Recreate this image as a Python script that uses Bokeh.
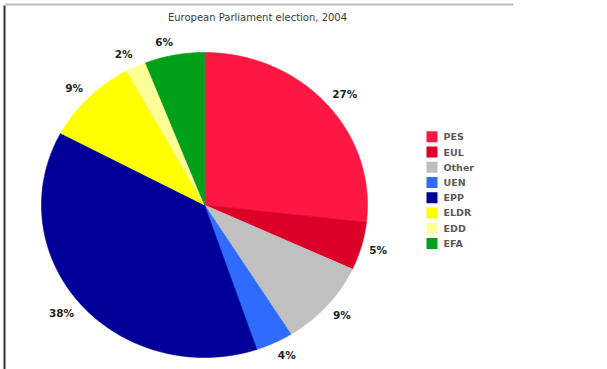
import numpy as np
from bokeh.plotting import figure
from bokeh.models import Range1d
from bokeh.core.properties import value
from bokeh.embed import file_html
from bokeh.resources import INLINE

title = "European Parliament election, 2004"
parties = ["PES", "EUL", "Other", "UEN", "EPP", "ELDR", "EDD", "EFA"]
shares = [26.8, 5.1, 9.2, 3.7, 38.0, 9.3, 2.0, 5.9]
labels = ["27%", "5%", "9%", "4%", "38%", "9%", "2%", "6%"]
colors = ["#FF1744", "#DC0028", "#C0C0C0", "#2F6BFF", "#000099", "#FFFF00", "#FFFF99", "#00A01A"]

W, H = 607, 369
p = figure(width=W, height=H, x_range=Range1d(0, W), y_range=Range1d(H, 0),
           output_backend="svg", toolbar_location=None, min_border=0)
p.axis.visible = False
p.grid.visible = False
p.outline_line_color = None
p.background_fill_color = "white"
p.border_fill_color = "white"

# frame lines of the screenshot
p.line([4, 4], [5, H], line_color="#333333", line_width=2)
p.line([5, 513], [4, 4], line_color="#BBBBBB", line_width=2)

# pie (slightly elliptical, as in the reference)
cx, cy, rx, ry = 204.0, 204.5, 163.0, 152.5
frac = np.array(shares) / sum(shares)
ends = np.cumsum(frac)
starts = ends - frac
xs, ys = [], []
for s, e in zip(starts, ends):
    t = np.linspace(s, e, max(4, int(500 * (e - s)))) * 2 * np.pi
    xs.append([cx] + list(cx + rx * np.sin(t)))
    ys.append([cy] + list(cy - ry * np.cos(t)))
p.patches(xs, ys, fill_color=colors, line_color=colors, line_width=0.6)

# percentage labels
mid = (starts + ends) / 2 * 2 * np.pi
kx, ky = 1.05, 1.09
lx = cx + kx * rx * np.sin(mid)
ly = cy - ky * ry * np.cos(mid)
align = ["left" if np.sin(m) > 0 else "right" for m in mid]
p.text(x=list(lx), y=list(ly), text=labels, text_align=align, text_baseline="middle",
       text_font=value("DejaVu Sans"), text_font_style="bold", text_font_size="10.5px",
       text_color="#222222")

# title
p.text(x=[257], y=[17], text=[title], text_align="center", text_baseline="middle",
       text_font=value("DejaVu Sans"), text_font_size="10px", text_color="#3a3a3a")

# legend
ly0, dy = 136.3, 15.23
leg_y = [ly0 + i * dy for i in range(len(parties))]
p.rect(x=[431.5] * len(parties), y=leg_y, width=11, height=11, fill_color=colors, line_color=None)
p.text(x=[443] * len(parties), y=leg_y, text=parties, text_align="left", text_baseline="middle",
       text_font=value("DejaVu Sans"), text_font_style="bold", text_font_size="9.5px",
       text_color="#5a5a5a")

open("out.html", "w").write(file_html(p, INLINE))
